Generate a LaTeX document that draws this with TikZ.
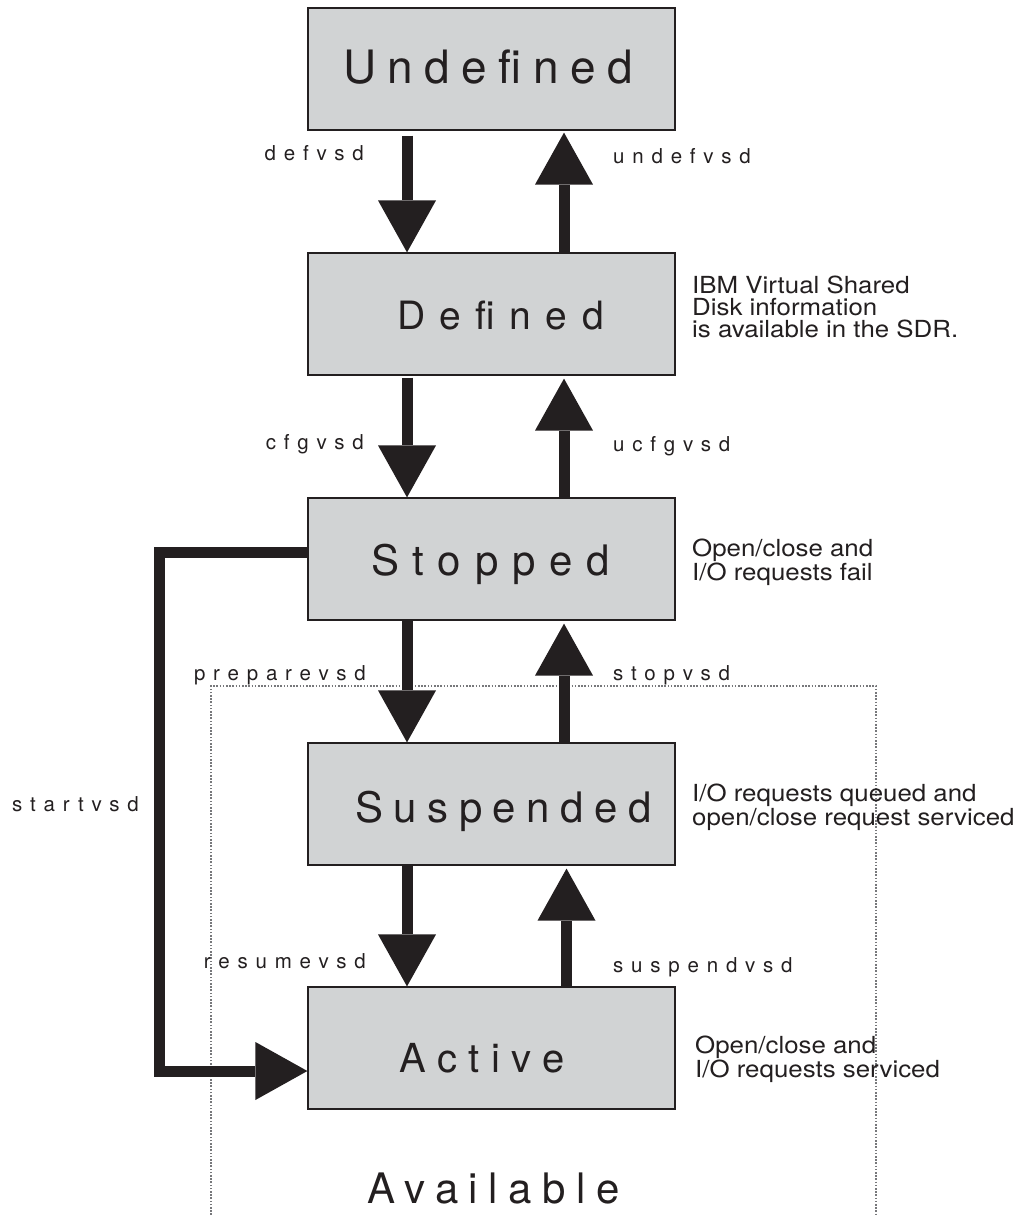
\documentclass[tikz,border=0pt]{standalone}
\usepackage{fontspec}
\setmainfont{TeX Gyre Heros}
\usetikzlibrary{arrows.meta}
\definecolor{boxgray}{HTML}{D1D3D4}
\definecolor{ink}{HTML}{231F20}
\definecolor{dotgray}{HTML}{77787B}
\newcommand\spacedtext[3]{{\fontsize{#2pt}{#2pt}\selectfont\addfontfeatures{LetterSpace=#1}#3}}
\begin{document}
\begin{tikzpicture}[x=1pt,y=-1pt,
  state/.style={draw=ink, line width=1.2pt, fill=boxgray, minimum width=367pt, minimum height=122pt, inner sep=0pt},
  statelabel/.style={anchor=base west, inner sep=0pt, text=ink},
  flow/.style={draw=ink, line width=11pt, -{Triangle[length=52pt,width=58pt,line width=0pt]}, ink},
  cmd/.style={inner sep=0pt, text=ink, font=\fontsize{20.5pt}{20.5pt}\selectfont\addfontfeatures{LetterSpace=38}},
  cmdl/.style={cmd, anchor=base east},
  cmdr/.style={cmd, anchor=base west},
  note/.style={anchor=north west, align=left, inner sep=0pt, text=ink, font=\fontsize{23.5pt}{22pt}\selectfont\addfontfeatures{FakeStretch=1.1}},
  availbox/.style={draw=dotgray, line width=1.2pt, dash pattern=on 1.6pt off 1.6pt}
]
\useasboundingbox (0,0) rectangle (1025,1215);

% dotted "Available" region
\draw[availbox] (211,1215) -- (211,686) -- (876,686) -- (876,1215);

% states
\node[state] (undef) at (491.5,69) {};
\node[state] (def) at (491.5,314) {};
\node[state] (stop) at (491.5,559) {};
\node[state] (susp) at (491.5,804) {};
\node[state] (act) at (491.5,1048) {};

\node[statelabel] (tundef) at (343,83) {\spacedtext{25}{46}{Undefined}};
\node[statelabel] (tdef) at (397,329) {\spacedtext{37}{39}{Defined}};
\node[statelabel] (tstop) at (371,575) {\spacedtext{33}{42}{Stopped}};
\node[statelabel] (tsusp) at (355,822) {\spacedtext{25}{42}{Suspended}};
\node[statelabel] (tact) at (399,1072) {\spacedtext{29}{40}{Active}};
\node[statelabel] (tavail) at (367,1203) {\spacedtext{25}{42}{Available}};

% transitions
\draw[flow] ([xshift=-84.5pt,yshift=-5pt]undef.south) -- ([xshift=-84.5pt]def.north);
\draw[flow] ([xshift=72.5pt]def.north) -- ([xshift=72.5pt,yshift=-2pt]undef.south);
\draw[flow] ([xshift=-84.5pt,yshift=-2pt]def.south) -- ([xshift=-84.5pt]stop.north);
\draw[flow] ([xshift=72.5pt]stop.north) -- ([xshift=72.5pt,yshift=-3pt]def.south);
\draw[flow] ([xshift=-84.5pt]stop.south) -- ([xshift=-84.5pt]susp.north);
\draw[flow] ([xshift=72.5pt]susp.north) -- ([xshift=72.5pt,yshift=-3pt]stop.south);
\draw[flow] ([xshift=-84.5pt]susp.south) -- ([xshift=-84.5pt]act.north);
\draw[flow] ([xshift=75pt]act.north) -- ([xshift=75pt,yshift=-3pt]susp.south);
\draw[flow, line join=miter] ([yshift=6.5pt]stop.west) -- ++(-148,0) |- ([yshift=-23pt]act.west);

% command labels
\node[cmdl] (ldefvsd) at (364,160) {defvsd};
\node[cmdr] (lundefvsd) at (613,163) {undefvsd};
\node[cmdl] (lcfgvsd) at (364,449) {cfgvsd};
\node[cmdr] (lucfgvsd) at (613,451) {ucfgvsd};
\node[cmdl] (lprep) at (366,680) {preparevsd};
\node[cmdr] (lstopvsd) at (613,680) {stopvsd};
\node[cmdl] (lresume) at (366,968) {resumevsd};
\node[cmdr] (lsuspend) at (613,972) {suspendvsd};
\node[cmdr] (lstart) at (12,811) {startvsd};

% notes
\node[note] (ndef) at (692,276) {IBM Virtual Shared\\Disk information\\is available in the SDR.};
\node[note] (nstop) at (692,539) {Open/close and\\I/O requests fail};
\node[note] (nsusp) at (692,784) {I/O requests queued and\\open/close request serviced};
\node[note] (nact) at (695,1036) {Open/close and\\I/O requests serviced};
\end{tikzpicture}
\end{document}
